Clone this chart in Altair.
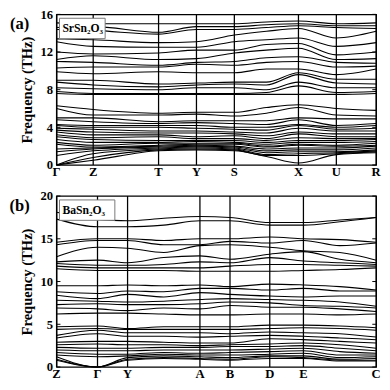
import altair as alt
import pandas as pd

FONT = "Liberation Serif"

# ---------------- (a) SrSn2O3 ----------------
a_point_labels = ["Γ", "Z", "T", "Y", "S", "X", "U", "R"]
a_point_k = [0.0, 37.7, 105.0, 144.0, 183.0, 249.0, 288.0, 329.0]
a_k = [0.0, 37.7, 105.0, 144.0, 183.0, 216.0, 249.0, 288.0, 329.0]
a_G = [15.1, 14.6, 14.4, 13.4, 13.1, 12.0, 11.2, 11.0, 10.3, 9.9, 9.0, 8.8, 8.2, 7.8, 7.6,
       6.3, 6.0, 5.0, 4.8, 4.3, 4.2, 3.9, 3.7, 3.5, 3.2, 3.0, 2.7, 2.4, 2.2, 1.7,
       1.4, 1.0, 0.0, 0.0, 0.0]
a_Z = [15.0, 14.7, 14.3, 13.3, 12.6, 11.8, 11.6, 10.9, 10.4, 9.7, 9.0, 8.5, 8.1, 7.6, 7.5,
       5.9, 5.3, 5.0, 4.6, 4.2, 4.0, 3.8, 3.5, 3.2, 2.9, 2.7, 2.4, 2.1, 1.9, 1.8,
       1.7, 1.5, 1.2, 0.8, 0.5]
a_T = [15.0, 14.1, 13.9, 13.0, 12.5, 11.9, 11.2, 10.6, 10.4, 9.9, 8.6, 8.3, 8.0, 7.6, 7.5,
       5.5, 5.3, 4.6, 4.4, 4.2, 4.0, 3.6, 3.4, 3.2, 3.0, 2.6, 2.4, 2.3, 2.1, 2.0,
       1.9, 1.8, 1.7, 1.6, 1.5]
a_Y = [15.0, 14.7, 14.4, 13.1, 12.5, 12.2, 11.3, 10.9, 10.7, 9.8, 8.7, 8.5, 8.2, 7.6, 7.5,
       5.6, 5.4, 4.7, 4.5, 4.2, 3.9, 3.6, 3.4, 3.0, 2.8, 2.6, 2.5, 2.3, 2.2, 2.1,
       2.0, 1.9, 1.8, 1.7, 1.6]
a_S = [15.0, 14.7, 14.4, 13.8, 13.1, 12.2, 11.9, 11.0, 10.6, 9.8, 8.8, 8.6, 8.2, 7.6, 7.5,
       5.6, 5.2, 4.7, 4.4, 4.0, 3.8, 3.5, 3.3, 3.1, 2.8, 2.6, 2.4, 2.3, 2.2, 2.0,
       1.9, 1.8, 1.7, 1.6, 1.5]
a_SX = [15.2, 14.9, 14.6, 14.2, 13.3, 12.8, 12.2, 11.4, 10.9, 10.2, 8.8, 8.5, 8.0, 7.7, 7.5,
        6.1, 5.5, 4.7, 4.3, 4.0, 3.7, 3.4, 3.1, 2.8, 2.6, 2.4, 2.2, 2.0, 1.9, 1.7,
        1.5, 1.3, 1.1, 1.0, 0.9]
a_X = [15.3, 15.0, 14.8, 14.5, 13.5, 12.9, 12.4, 11.5, 11.0, 10.2, 9.8, 9.6, 8.8, 8.4, 7.5,
       6.4, 6.1, 5.0, 4.8, 4.3, 4.2, 3.9, 3.5, 3.3, 2.9, 2.6, 2.4, 2.2, 2.1, 1.8,
       1.6, 1.4, 1.2, 1.0, 0.2]
a_U = [15.0, 14.8, 14.6, 13.5, 12.6, 11.7, 11.2, 10.9, 10.4, 9.6, 9.1, 8.7, 8.2, 7.7, 7.5,
       6.0, 5.3, 4.9, 4.2, 4.0, 3.8, 3.6, 3.3, 3.0, 2.8, 2.6, 2.4, 2.1, 2.0, 1.8,
       1.6, 1.4, 1.3, 1.2, 1.1]
a_R = [15.1, 14.8, 14.5, 14.2, 13.0, 12.0, 11.3, 10.8, 10.5, 10.2, 9.1, 8.6, 8.2, 7.8, 7.6,
       5.8, 5.2, 4.9, 4.4, 4.2, 3.9, 3.6, 3.3, 3.0, 2.8, 2.7, 2.5, 2.3, 2.1, 2.0,
       1.8, 1.6, 1.5, 1.4, 1.3]
a_freqs = [a_G, a_Z, a_T, a_Y, a_S, a_SX, a_X, a_U, a_R]
a_ticks = [0, 4, 8, 12, 16]

# ---------------- (b) BaSn2O3 ----------------
b_point_labels = ["Z", "Γ", "Y", "A", "B", "D", "E", "C"]
b_point_k = [0.0, 42.2, 73.2, 147.8, 178.8, 219.8, 254.5, 329.5]
b_k = [0.0, 42.2, 73.2, 110.5, 147.8, 178.8, 219.8, 254.5, 292.0, 329.5]
b_Z = [18.1, 17.3, 14.6, 14.3, 12.9, 12.3, 12.1, 11.8, 11.5, 9.5,
       8.8, 8.4, 7.8, 7.3, 6.9, 6.2, 4.7, 4.4, 3.7, 3.4,
       2.9, 2.6, 2.3, 2.0, 1.7, 1.4, 1.2, 0.9, 0.8]
b_G = [17.3, 16.4, 15.0, 14.8, 14.0, 12.5, 11.9, 11.6, 11.3, 9.5,
       8.6, 8.0, 7.7, 7.4, 6.8, 6.3, 4.8, 4.5, 4.3, 3.9,
       3.0, 2.7, 2.2, 1.9, 1.5, 1.2, 0.0, 0.0, 0.0]
b_Y = [17.1, 16.4, 15.0, 14.8, 13.9, 12.2, 11.9, 11.6, 11.3, 9.6,
       8.9, 8.5, 7.6, 7.3, 6.6, 6.3, 4.5, 4.4, 4.0, 3.6,
       3.0, 2.6, 2.2, 1.9, 1.5, 1.3, 1.1, 0.9, 0.8]
b_YA = [17.4, 16.6, 14.8, 14.3, 13.4, 12.8, 12.0, 11.6, 11.3, 9.5,
        8.8, 8.2, 7.7, 7.3, 6.9, 6.2, 4.7, 4.4, 4.0, 3.6,
        2.9, 2.6, 2.3, 2.0, 1.7, 1.5, 1.3, 1.1, 1.0]
b_A = [17.6, 17.1, 15.0, 14.3, 14.2, 13.0, 12.3, 11.6, 11.2, 9.6,
       9.2, 8.7, 7.9, 7.4, 6.8, 6.1, 4.7, 4.4, 4.0, 3.5,
       2.8, 2.5, 2.3, 2.0, 1.6, 1.4, 1.2, 1.0, 0.9]
b_B = [17.5, 17.1, 15.0, 14.7, 14.3, 12.6, 12.2, 11.8, 11.2, 9.4,
       9.2, 8.5, 8.0, 7.6, 7.2, 6.1, 4.7, 4.4, 3.9, 3.6,
       2.8, 2.6, 2.4, 2.0, 1.7, 1.4, 1.1, 0.9, 0.8]
b_D = [16.9, 16.6, 15.2, 14.5, 14.0, 13.2, 12.8, 12.0, 11.2, 9.7,
       9.0, 8.3, 7.9, 7.5, 7.0, 6.2, 4.9, 4.5, 4.1, 3.7,
       3.3, 2.7, 2.4, 2.1, 1.8, 1.5, 1.3, 1.2, 1.0]
b_E = [16.9, 16.6, 15.0, 14.8, 13.6, 13.5, 12.4, 12.0, 11.3, 9.6,
       9.2, 8.2, 7.8, 7.2, 7.0, 6.2, 4.9, 4.6, 4.0, 3.6,
       3.2, 2.8, 2.5, 2.2, 1.9, 1.6, 1.3, 1.1, 1.0]
b_EC = [17.2, 17.0, 14.9, 14.2, 13.4, 12.6, 12.2, 11.9, 11.4, 9.4,
        8.9, 8.3, 7.6, 7.1, 6.8, 6.1, 4.8, 4.5, 3.9, 3.4,
        3.0, 2.6, 2.2, 1.8, 1.4, 1.1, 0.9, 0.8, 0.7]
b_C = [17.5, 17.5, 14.6, 14.5, 12.5, 12.2, 12.0, 11.8, 11.6, 9.0,
       8.9, 8.3, 7.1, 6.9, 6.5, 6.2, 4.6, 4.3, 3.5, 3.2,
       2.8, 2.2, 1.9, 1.6, 1.4, 1.2, 1.0, 0.8, 0.7]
b_freqs = [b_Z, b_G, b_Y, b_YA, b_A, b_B, b_D, b_E, b_EC, b_C]
b_ticks = [0, 5, 10, 15, 20]


def panel(k_list, freqs, point_k, point_labels, ticks, w, h, tag, compound, box_w):
    rows = []
    for k, fs in zip(k_list, freqs):
        for i, f in enumerate(fs):
            rows.append({"k": k, "f": f, "band": i})
    df = pd.DataFrame(rows)
    pts = pd.DataFrame({"k": point_k, "label": point_labels})
    tdf = pd.DataFrame({"f": ticks})
    kmax = point_k[-1]
    ymax = ticks[-1]
    xs = alt.Scale(domain=[0, kmax], nice=False, zero=False)
    ys = alt.Scale(domain=[0, ymax], nice=False)

    yaxis = alt.Axis(values=ticks, title="Frequency (THz)", ticks=False, domain=False,
                     grid=False, labelPadding=4, titlePadding=6, labelOverlap=False,
                     labelFont=FONT, labelFontWeight="bold", labelFontSize=13,
                     labelColor="black", titleFont=FONT, titleFontWeight="bold",
                     titleFontSize=15, titleColor="black")

    lines = alt.Chart(df).mark_line(color="black", strokeWidth=1.1, interpolate="monotone").encode(
        x=alt.X("k:Q", scale=xs, axis=None),
        y=alt.Y("f:Q", scale=ys, axis=yaxis),
        detail="band:N",
        order="k:Q",
    )
    vrules = alt.Chart(pts).mark_rule(color="black", strokeWidth=1.3).encode(
        x=alt.X("k:Q", scale=xs, axis=None))
    xlab = alt.Chart(pts).mark_text(font=FONT, fontWeight="bold", fontSize=13, baseline="top",
                                    color="black").encode(
        x=alt.X("k:Q", scale=xs, axis=None), y=alt.value(h + 1), text="label:N")
    tl = alt.Chart(tdf).mark_rule(color="black", strokeWidth=1).encode(
        y=alt.Y("f:Q", scale=ys, axis=yaxis), x=alt.value(0), x2=alt.value(4))
    tr = alt.Chart(tdf).mark_rule(color="black", strokeWidth=1).encode(
        y=alt.Y("f:Q", scale=ys, axis=yaxis), x=alt.value(w - 4), x2=alt.value(w))
    one = pd.DataFrame({"t": [compound]})
    box = alt.Chart(one).mark_rect(fill="white", stroke="#777", strokeWidth=1).encode(
        x=alt.value(3), x2=alt.value(box_w), y=alt.value(4), y2=alt.value(25))
    btxt = alt.Chart(one).mark_text(font=FONT, fontWeight="bold", fontSize=12, align="left",
                                    baseline="middle", color="black").encode(
        x=alt.value(6), y=alt.value(14), text="t:N")
    tg = alt.Chart(pd.DataFrame({"t": [tag]})).mark_text(
        font=FONT, fontWeight="bold", fontSize=17, align="center", baseline="middle",
        color="black").encode(x=alt.value(-38), y=alt.value(10), text="t:N")
    return alt.layer(lines, vrules, xlab, tl, tr, box, btxt, tg).properties(width=w, height=h)


pa = panel(a_k, a_freqs, a_point_k, a_point_labels, a_ticks, 329, 155, "(a)", "SrSn₂O₃", 50)
pb = panel(b_k, b_freqs, b_point_k, b_point_labels, b_ticks, 329, 176, "(b)", "BaSn₂O₃", 60)

chart = alt.vconcat(pa, pb, spacing=10, padding={"left": 0, "top": -6, "right": 0, "bottom": 0}).configure(
    font=FONT
).configure_view(
    stroke="black", strokeWidth=1.3
).configure_axis(
    labelFont=FONT, labelFontWeight="bold", labelFontSize=13, labelColor="black",
    titleFont=FONT, titleFontWeight="bold", titleFontSize=15, titleColor="black",
    labelOverlap=False
)

chart.save("out.html", embed_options={"renderer": "svg", "actions": False})
